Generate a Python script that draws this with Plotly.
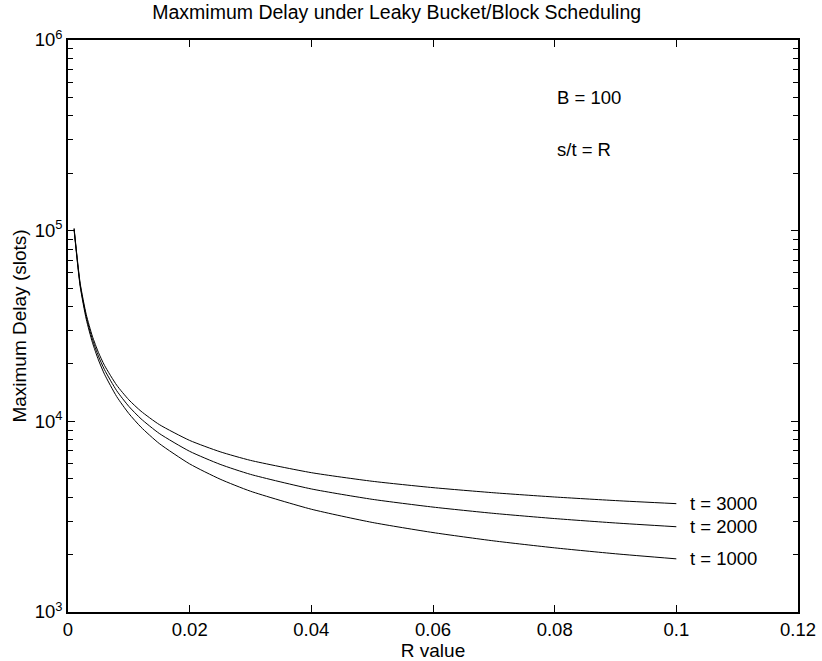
import math
import plotly.graph_objects as go

# R values (x) and maximum delay (slots)
r_values = [0.001, 0.002, 0.003, 0.004, 0.005, 0.006, 0.008, 0.01, 0.012, 0.015,
            0.02, 0.025, 0.03, 0.04, 0.05, 0.06, 0.07, 0.08, 0.09, 0.1]
delay_t1000 = [101000, 51000, 34330, 26000, 21000, 17660, 13490, 10990, 9320, 7650,
               5980, 4975, 4300, 3460, 2950, 2610, 2360, 2170, 2020, 1900]
delay_t2000 = [102000, 52000, 35330, 26990, 21990, 18650, 14480, 11980, 10310, 8640,
               6960, 5950, 5270, 4420, 3900, 3550, 3290, 3090, 2930, 2800]
delay_t3000 = [103000, 53000, 36320, 27990, 22990, 19650, 15480, 12970, 11300, 9620,
               7940, 6925, 6240, 5380, 4850, 4490, 4220, 4010, 3840, 3700]
series_names = ["t = 1000", "t = 2000", "t = 3000"]
series_values = [delay_t1000, delay_t2000, delay_t3000]

note_texts = ["B = 100", "s/t = R"]
note_y = [5.0e5, 2.65e5]

x_ticks = [0, 0.02, 0.04, 0.06, 0.08, 0.1, 0.12]
x_ticktext = ["0", "0.02", "0.04", "0.06", "0.08", "0.1", "0.12"]
y_ticks = [1e3, 1e4, 1e5, 1e6]
y_ticktext = ["10<sup>3</sup>", "10<sup>4</sup>", "10<sup>5</sup>", "10<sup>6</sup>"]
y_minor = [m * 10 ** k for k in (3, 4, 5) for m in range(2, 10)]

FONT = "Liberation Sans, Arial, Helvetica, sans-serif"
FS = 18.5

fig = go.Figure()
for name, vals in zip(series_names, series_values):
    fig.add_trace(go.Scatter(x=r_values, y=vals, mode="lines", name=name,
                             line=dict(color="black", width=1, shape="spline", smoothing=0.6),
                             showlegend=False))
    fig.add_annotation(x=0.1019, y=math.log10(vals[-1]), text=name, showarrow=False,
                       xanchor="left", yanchor="middle",
                       font=dict(family=FONT, size=FS, color="black"))

for txt, yv in zip(note_texts, note_y):
    fig.add_annotation(x=0.08, y=math.log10(yv), text=txt, showarrow=False, xanchor="left",
                       yanchor="middle", font=dict(family=FONT, size=FS, color="black"))

axis_common = dict(showline=True, linecolor="black", linewidth=1.5, mirror="ticks",
                   ticks="inside", tickcolor="black", tickwidth=1, showgrid=False,
                   zeroline=False, automargin=False,
                   tickfont=dict(family=FONT, size=FS, color="black"))

fig.update_xaxes(range=[0, 0.12], tickmode="array", tickvals=x_ticks, ticktext=x_ticktext,
                 ticklen=7, title=dict(text="R value", standoff=2,
                                       font=dict(family=FONT, size=19, color="black")),
                 **axis_common)
fig.update_yaxes(type="log", range=[3, 6], tickmode="array", tickvals=y_ticks,
                 ticktext=y_ticktext, ticklen=7,
                 minor=dict(ticks="inside", ticklen=5, tickcolor="black", tickwidth=1,
                            tickmode="array", tickvals=y_minor),
                 title=dict(text="Maximum Delay (slots)", standoff=3,
                            font=dict(family=FONT, size=19, color="black")),
                 **axis_common)

fig.update_layout(
    width=822, height=661,
    margin=dict(l=68, r=24, t=40, b=49),
    paper_bgcolor="white", plot_bgcolor="white",
    title=dict(text="Maxmimum Delay under Leaky Bucket/Block Scheduling", x=0.4826,
               xanchor="center", y=0.981, yanchor="middle",
               font=dict(family=FONT, size=19.5, color="black")),
    font=dict(family=FONT, color="black"),
)

fig.write_html("out.html")
